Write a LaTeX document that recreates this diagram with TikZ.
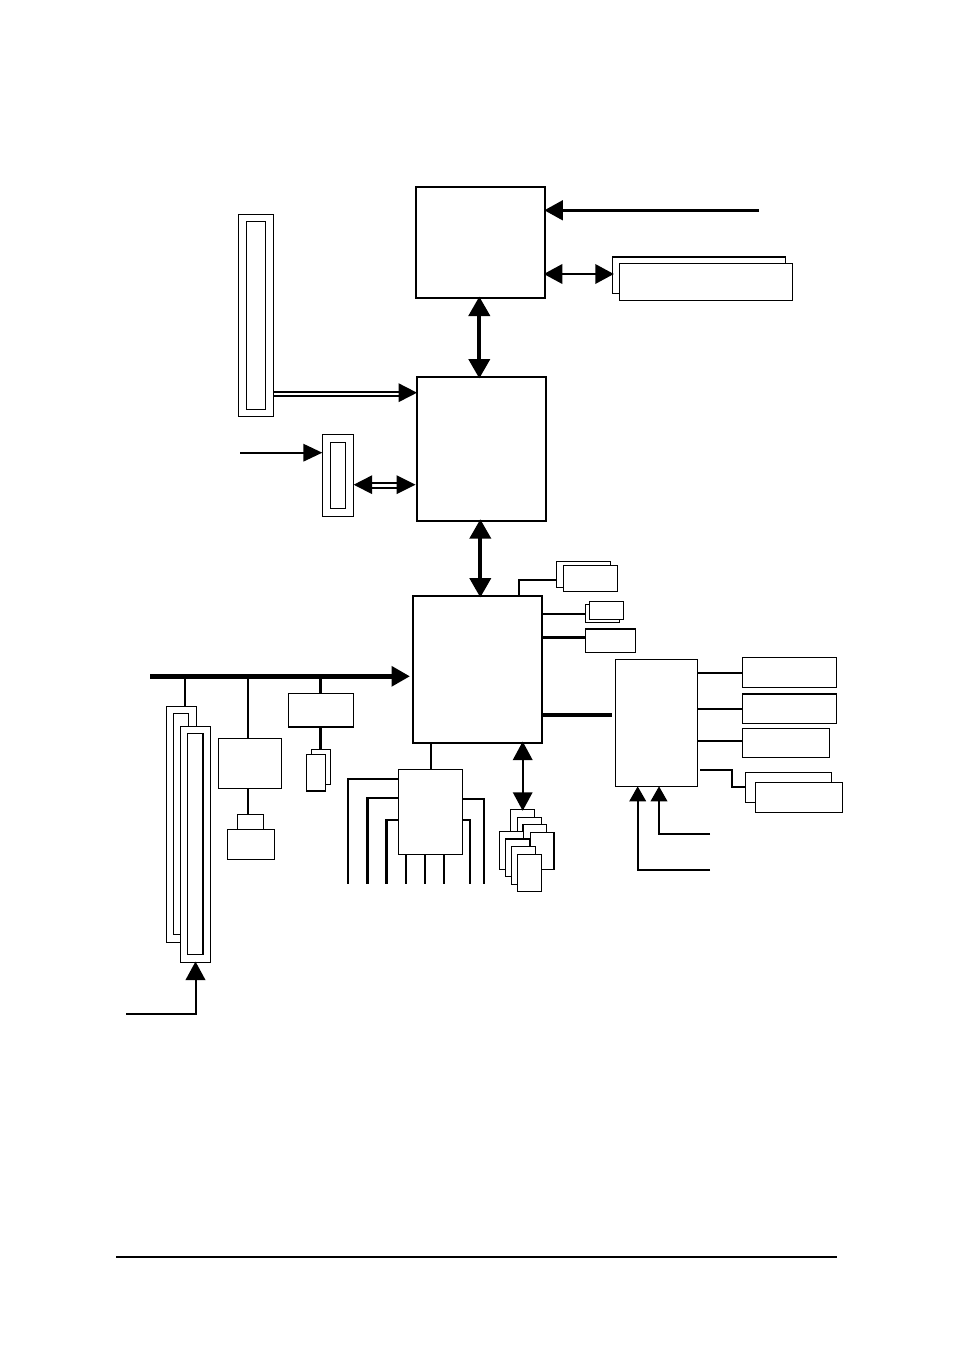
\documentclass[tikz,border=0pt]{standalone}
\usetikzlibrary{arrows.meta}
\tikzset{
  box/.style={draw=black,fill=white,line width=1.3pt,inner sep=0pt,outer sep=0pt},
  heavybox/.style={box,line width=2.2pt},
  wire/.style={draw=black,line width=2pt},
  reach/.style={shorten >=-1.5pt,shorten <=-1.5pt},
  bigtip/.tip={Triangle[length=19.5pt,width=21pt]},
  midtip/.tip={Triangle[length=18.5pt,width=19.5pt]},
  smalltip/.tip={Triangle[length=15pt,width=16.5pt]}
}
\newcommand\bx[6][]{%
  \pgfmathsetmacro\bw{#5-#3}\pgfmathsetmacro\bh{#6-#4}%
  \node[box,#1,minimum width=\bw pt,minimum height=\bh pt] (#2) at ({(#3+#5)/2},{(#4+#6)/2}) {};}
\begin{document}
\begin{tikzpicture}[x=1pt,y=-1pt]
\useasboundingbox (0,0) rectangle (953,1352);
% main chips
\bx[heavybox]{cpu}{416}{187}{545.3}{298}
\bx[heavybox]{nb}{417}{377}{546}{520.7}
\bx[heavybox]{sb}{413}{596}{542.3}{743}
% CPU side
\bx{ramB}{612.3}{256.7}{785.7}{293.3}
\draw[line width=1.8pt] (ramB.north west) -- (ramB.north east);
\bx{ramF}{619.3}{263.3}{792.3}{300.7}
% AGP
\bx{agpO}{238.7}{214.7}{273.5}{416.3}
\bx{agpI}{246.3}{221.3}{265.7}{409.3}
\bx{ddrO}{322.3}{434.3}{353.7}{516.3}
\bx{ddrI}{330.3}{442.3}{345.7}{508.3}
% PCI side
\bx{pciAO}{166.5}{706.5}{196.5}{942.5}
\bx{pciAI}{173.5}{713.3}{188.5}{934.7}
\bx{pciBO}{180.5}{726.5}{210.5}{962.5}
\bx{pciBI}{187.5}{733.5}{203}{954.5}
\draw[line width=1.8pt] (pciBI.north east) -- (pciBI.south east);
\bx{lan}{218.5}{738.5}{281.5}{788.5}
\bx{rjT}{237.5}{814.5}{263.5}{829.5}
\bx{rjB}{227.5}{829.5}{274.5}{859.5}
\bx{ide}{288.5}{693.5}{353.5}{727}
\draw[line width=1.8pt] (ide.south west) -- (ide.south east);
\bx{ideB}{311.5}{749.5}{330.5}{784.5}
\bx{ideF}{306.5}{754.5}{325.5}{791}
\draw[line width=1.8pt] (ideF.south west) -- (ideF.south east);
% south bridge neighbours
\bx[line width=1.5pt]{sio}{398.7}{769.3}{462.3}{854.7}
\bx{c1}{510.3}{809.3}{534.7}{846}
\bx{c2}{517.3}{817.3}{541.7}{854}
\bx{c3}{523}{824.7}{546.7}{861}
\bx{c4}{530.3}{832.3}{554}{869.3}
\draw[line width=1.8pt] (c4.north east) -- (c4.south east);
\bx{c5}{499.3}{831.3}{523.7}{869.3}
\bx{c6}{505.3}{839}{529.7}{876.7}
\bx{c7}{511.3}{846.3}{535.7}{884.3}
\bx{c8}{517.3}{854.3}{541.7}{891.3}
\bx{usbB}{556.3}{561.3}{610.7}{587.3}
\bx{usbF}{563.3}{565.3}{617.7}{591.3}
\bx{smB}{585.3}{604.3}{619.7}{622.7}
\bx{smF}{589.3}{601.3}{623.7}{619.7}
\bx{ac}{585.3}{629}{635.7}{652.3}
\draw[line width=2pt] (ac.north west) -- (ac.north east);
% audio chip
\bx{aud}{615.3}{659.3}{697.7}{786.3}
\bx{a1}{742.3}{657.3}{836.7}{687.3}
\bx{a2}{742.3}{694}{836.7}{723.3}
\draw[line width=2pt] (a2.north west) -- (a2.north east);
\bx{a3}{742.3}{728.3}{829.3}{757.3}
\bx{a4}{745.3}{772.3}{831.7}{802.3}
\bx{a5}{755.3}{782.3}{842.7}{812.3}
% free ends and connector levels
\coordinate (clk) at (759,210.3);
\coordinate (ramY) at (0,274);
\coordinate (vA) at (479.3,0);
\coordinate (vB) at (480.3,0);
\coordinate (agpY1) at (0,392);
\coordinate (agpY2) at (0,396.3);
\coordinate (agpTip) at (0,392.7);
\coordinate (vref) at (240,452.7);
\coordinate (ddrY) at (0,484.7);
\coordinate (ddrY1) at (0,483.2);
\coordinate (ddrY2) at (0,488.2);
\coordinate (busL) at (150,676.3);
\coordinate (vPci) at (185,0);
\coordinate (vLan) at (248,0);
\coordinate (vIde) at (320.5,0);
\coordinate (pciIn) at (126,1014);
\coordinate (usbCorner) at (519,580);
\coordinate (smY) at (0,613.7);
\coordinate (acY) at (0,637.3);
\coordinate (audEnd) at (612,714.7);
\coordinate (a1Y) at (0,673);
\coordinate (a2Y) at (0,709);
\coordinate (a3Y) at (0,741);
\coordinate (elFree) at (700,770);
\coordinate (elBend) at (732,787);
\coordinate (audIn1) at (710,834);
\coordinate (audIn2) at (710,870);
\coordinate (audX1) at (659,0);
\coordinate (audX2) at (637.7,0);
\coordinate (sbBot) at (0,883.5);
\coordinate (vSio) at (430.7,0);
\coordinate (vC) at (522.7,0);
% CPU connectors
\draw[-{midtip},shorten >=-1pt,line width=3pt] (clk) -- (clk -| cpu.east);
\draw[{midtip}-{midtip},reach,line width=2pt] (ramY -| cpu.east) -- (ramY -| ramB.west);
\draw[{bigtip}-{bigtip},reach,line width=4pt] (vA |- cpu.south) -- (vA |- nb.north);
\draw[{bigtip}-{bigtip},reach,line width=4pt] (vB |- nb.south) -- (vB |- sb.north);
% AGP connectors
\draw[line width=1.8pt] (agpY1 -| agpO.east) -- ([xshift=-12pt]agpY1 -| nb.west);
\draw[line width=2pt] (agpY2 -| agpO.east) -- ([xshift=-12pt]agpY2 -| nb.west);
\fill (agpTip -| nb.west) -- ++(-18.5,-9.5) -- ++(0,19) -- cycle;
\draw[-{smalltip[length=19pt,width=17.5pt]},line width=1.8pt] (vref) -- (vref -| ddrO.west);
\draw[line width=1.6pt] ([xshift=12pt]ddrY1 -| ddrO.east) -- ([xshift=-12pt]ddrY1 -| nb.west);
\draw[line width=2.2pt] ([xshift=12pt]ddrY2 -| ddrO.east) -- ([xshift=-12pt]ddrY2 -| nb.west);
\fill (ddrY -| ddrO.east) -- ++(18.5,-9.5) -- ++(0,19) -- cycle;
\fill ([xshift=-1.5pt]ddrY -| nb.west) -- ++(-19,-9.5) -- ++(0,19) -- cycle;
% PCI bus
\draw[-{midtip},line width=5pt] (busL) -- ([xshift=-3pt]busL -| sb.west);
\draw[line width=2pt] (vPci |- busL) -- (vPci |- pciAO.north);
\draw[line width=2pt] (vLan |- busL) -- (vLan |- lan.north);
\draw[line width=2.2pt] (vLan |- lan.south) -- (vLan |- rjT.north);
\draw[line width=3pt] (vIde |- busL) -- (vIde |- ide.north);
\draw[line width=3pt] (vIde |- ide.south) -- (vIde |- ideB.north);
\draw[-{midtip},shorten >=-1pt,line width=2pt] (pciIn) -| (pciBO.south);
% south bridge links
\draw[wire] (vSio |- sb.south) -- (vSio |- sio.north);
\draw[{midtip}-{midtip},reach,line width=1.7pt] (vC |- sb.south) -- (vC |- c1.north);
\foreach \x/\y/\w in {348/779/1.8,367.3/797.7/2.4,386.3/819.7/2.4}{
  \draw[line width=\w pt] (\x,0 |- sbBot) -- (\x,\y) -- (\x,\y -| sio.west);
}
\foreach \x in {406,425,444}{
  \draw[line width=1.8pt] (\x,0 |- sio.south) -- (\x,0 |- sbBot);
}
\foreach \x/\y/\w in {470/820/2.4,484/799/1.8}{
  \draw[line width=\w pt] (\x,0 |- sbBot) -- (\x,\y) -- (\x,\y -| sio.east);
}
\draw[wire] (usbCorner |- sb.north) -- (usbCorner) -- (usbCorner -| usbB.west);
\draw[wire] (smY -| sb.east) -- (smY -| smB.west);
\draw[line width=3pt] (acY -| sb.east) -- (acY -| ac.west);
\draw[line width=4pt] (audEnd -| sb.east) -- (audEnd);
% audio chip links
\draw[wire] (a1Y -| aud.east) -- (a1Y -| a1.west);
\draw[wire] (a2Y -| aud.east) -- (a2Y -| a2.west);
\draw[wire] (a3Y -| aud.east) -- (a3Y -| a3.west);
\draw[wire] (elFree) -| (elBend) -- (elBend -| a4.west);
\draw[-{smalltip},line width=2pt] (audIn1) -| (audX1 |- aud.south);
\draw[-{smalltip},line width=2pt] (audIn2) -| (audX2 |- aud.south);
% footer rule
\coordinate (ruleL) at (116,1257);
\coordinate (ruleR) at (837,1257);
\draw[line width=2pt] (ruleL) -- (ruleR);
\end{tikzpicture}
\end{document}
